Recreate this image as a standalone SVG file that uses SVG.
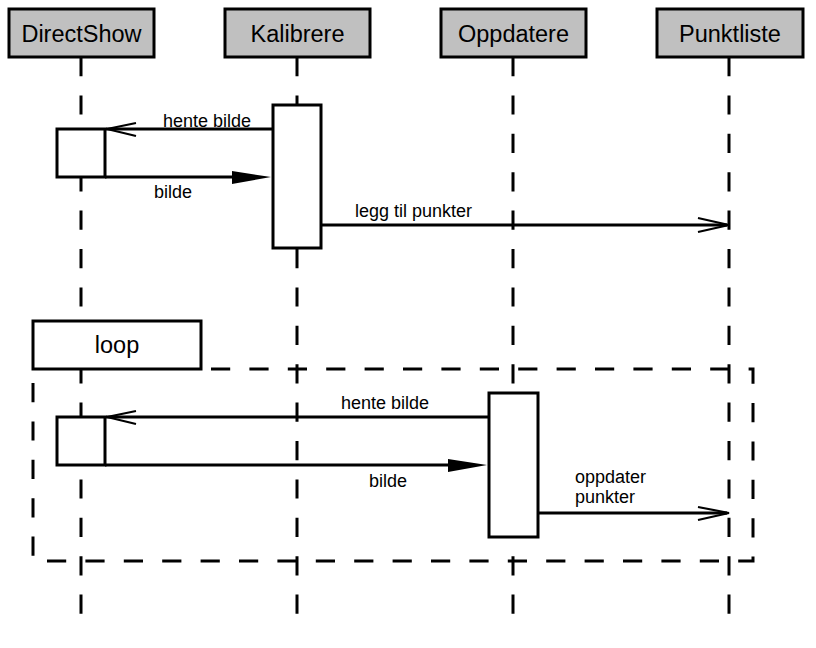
<svg xmlns="http://www.w3.org/2000/svg" width="816" height="648" viewBox="0 0 816 648">
<style>
.hdr{fill:#c0c0c0;stroke:#000;stroke-width:3}
.act{fill:#fff;stroke:#000;stroke-width:3}
.life{stroke:#000;stroke-width:3;stroke-dasharray:19.2 19.2;fill:none}
.msg{stroke:#000;stroke-width:3;fill:none}
.open{stroke:#000;stroke-width:2.2;fill:none}
.t{font-family:"Liberation Sans",Arial,sans-serif;fill:#000}
.h{font-size:23.5px;text-anchor:middle}
.m{font-size:18px}
</style>
<rect width="816" height="648" fill="#fff"/>
<g id="lifelines">
<line class="life" x1="81" y1="57" x2="81" y2="614"/>
<line class="life" x1="297" y1="57" x2="297" y2="614"/>
<line class="life" x1="513" y1="57" x2="513" y2="614"/>
<line class="life" x1="729" y1="57" x2="729" y2="614"/>
</g>
<g id="DirectShow">
<rect class="hdr" x="9" y="9" width="145" height="48"/>
<text class="t h" x="81.5" y="42">DirectShow</text>
</g>
<g id="Kalibrere">
<rect class="hdr" x="225" y="9" width="145" height="48"/>
<text class="t h" x="297.5" y="42">Kalibrere</text>
</g>
<g id="Oppdatere">
<rect class="hdr" x="441" y="9" width="145" height="48"/>
<text class="t h" x="513.5" y="42">Oppdatere</text>
</g>
<g id="Punktliste">
<rect class="hdr" x="657" y="9" width="146" height="48"/>
<text class="t h" x="730" y="42">Punktliste</text>
</g>
<g id="loop">
<path d="M201,369 H753 V561 H33 V369" stroke="#000" stroke-width="3" fill="none" stroke-dasharray="19.2 19.2" stroke-dashoffset="-10"/>
<rect x="33" y="321" width="168" height="48" fill="#fff" stroke="#000" stroke-width="3"/>
<text class="t h" x="117" y="353">loop</text>
</g>
<g id="activations">
<rect class="act" x="273" y="105" width="48" height="143"/>
<rect class="act" x="57" y="129" width="48" height="48"/>
<rect class="act" x="489" y="393" width="49" height="144"/>
<rect class="act" x="57" y="417" width="48" height="48"/>
</g>
<g id="connectors">
<line class="msg" x1="273" y1="129" x2="106" y2="129"/>
<path class="open" d="M136,123 L107,129 L136,136"/>
<text class="t m" x="163" y="127">hente bilde</text>
<line class="msg" x1="105" y1="177" x2="240" y2="177"/>
<path d="M232,171 L271,177 L232,184 Z" fill="#000"/>
<text class="t m" x="154" y="198">bilde</text>
<line class="msg" x1="321" y1="225" x2="727" y2="225"/>
<path class="open" d="M698,218 L729,225 L698,232"/>
<text class="t m" x="355" y="217">legg til punkter</text>
<line class="msg" x1="489" y1="417" x2="106" y2="417"/>
<path class="open" d="M136,411 L107,417 L136,424"/>
<text class="t m" x="341" y="409">hente bilde</text>
<line class="msg" x1="105" y1="465" x2="455" y2="465"/>
<path d="M448,459 L487,465 L448,472 Z" fill="#000"/>
<text class="t m" x="369" y="487">bilde</text>
<line class="msg" x1="538" y1="513" x2="727" y2="513"/>
<path class="open" d="M698,507 L729,513 L698,520"/>
<text class="t m" x="575" y="483">oppdater</text>
<text class="t m" x="575" y="503">punkter</text>
</g>
</svg>
